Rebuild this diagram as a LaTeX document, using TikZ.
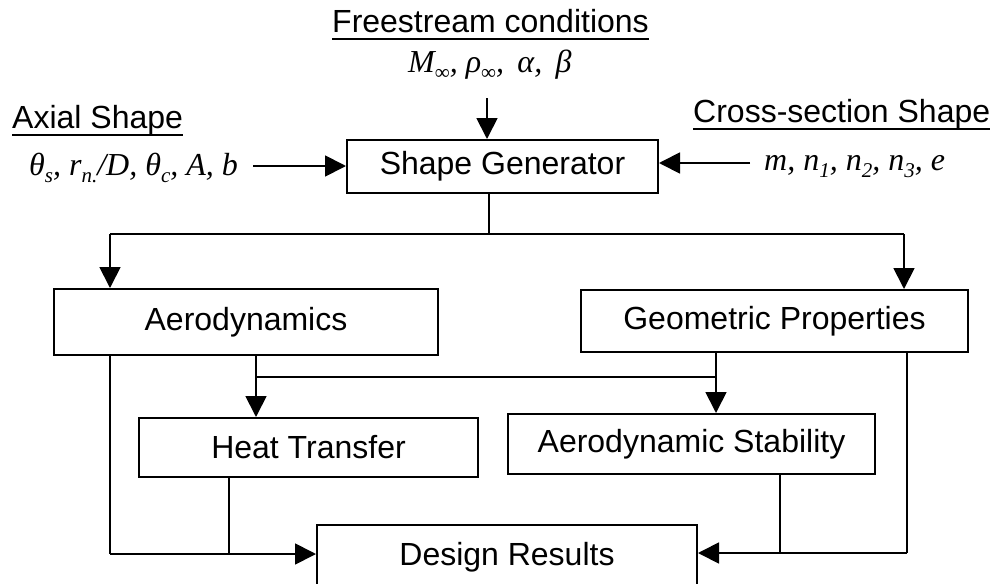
\documentclass[tikz,border=0pt]{standalone}
\usepackage{fontspec}
\setmainfont{Liberation Sans}
\newfontfamily\tms{Liberation Serif}
\usetikzlibrary{arrows.meta}
\newcommand\sbs[1]{\raisebox{-0.22em}{\fontsize{21}{21}\selectfont #1}}
\begin{document}
\begin{tikzpicture}[x=1pt,y=-1pt,
  every node/.style={font=\fontsize{32}{38}\selectfont},
  box/.style={draw,line width=2pt,inner sep=0pt},
  lbl/.style={inner sep=0pt,anchor=base west},
  mth/.style={inner sep=0pt,anchor=base west,font=\fontsize{32}{38}\selectfont\tms\itshape},
  ln/.style={line width=1.8pt},
  arr/.style={line width=1.8pt,-{Triangle[length=21pt,width=21pt]}},
  ul/.style={line width=2.5pt}]
\useasboundingbox (0,0) rectangle (997,584);
\clip (0,0) rectangle (997,584);

% boxes
\node[box,minimum width=311pt,minimum height=53pt] (gen) at (502.5,166.5) {\raisebox{-2pt}{Shape Generator}};
\node[box,minimum width=384pt,minimum height=66pt] (aero) at (246,322) {Aerodynamics};
\node[box,minimum width=387pt,minimum height=62pt] (geo) at (774.5,321) {Geometric Properties};
\node[box,minimum width=339pt,minimum height=59pt] (heat) at (308.5,447.5) {Heat Transfer};
\node[box,minimum width=367pt,minimum height=60pt] (stab) at (691.5,444) {Aerodynamic Stability};
\node[box,minimum width=380pt,minimum height=65pt] (des) at (507,557.5) {Design Results};

% titles
\node[lbl] (fst) at (332,32) {Freestream conditions};
\draw[ul] ([yshift=-7pt]fst.base west) -- ([yshift=-7pt]fst.base east);
\node[lbl] (axt) at (12,128) {Axial Shape};
\draw[ul] ([yshift=-7pt]axt.base west) -- ([yshift=-7pt]axt.base east);
\node[lbl] (cst) at (693,122) {Cross-section Shape};
\draw[ul] ([yshift=-7pt]cst.base west) -- ([yshift=-7pt]cst.base east);

% parameter lists
\node[mth] (fsp) at (408,72) {M\sbs{\upshape∞}, ρ\sbs{\upshape∞}, \,α, \,β};
\node[mth] (axp) at (29,175) {θ\sbs{s}, r\sbs{n.}/D, θ\sbs{c}, A, b};
\node[mth] (csp) at (764,170) {m, n\sbs{1}, n\sbs{2}, n\sbs{3}, e};

% inputs
\coordinate (fsin) at (487,98);
\coordinate (axin) at (253,166);
\coordinate (csin) at (750,163);
\draw[arr] (fsin) -- (fsin |- gen.north);
\draw[arr] (axin) -- (axin -| gen.west);
\draw[arr] (csin) -- (csin -| gen.east);

% generator outputs
\coordinate (gout) at (489,234);
\coordinate (bl) at (110,234);
\coordinate (br) at (904,234);
\draw[ln] (gout |- gen.south) -- (gout);
\draw[ln] (bl) -- (br);
\draw[arr] (bl) -- (bl |- aero.north);
\draw[arr] (br) -- (br |- geo.north);

% middle distribution
\coordinate (ja) at (256,377);
\coordinate (jg) at (716,377);
\draw[ln] (ja |- aero.south) -- (ja) -- (jg);
\draw[ln] (jg |- geo.south) -- (jg);
\draw[arr] (ja) -- (ja |- heat.north);
\draw[arr] (jg) -- (jg |- stab.north);

% to design results
\coordinate (ll) at (110,554);
\coordinate (hl) at (229,554);
\coordinate (rr) at (907,553);
\coordinate (sr) at (780,553);
\draw[ln] (ll |- aero.south) -- (ll);
\draw[ln] (hl |- heat.south) -- (hl);
\draw[arr] (ll) -- (ll -| des.west);
\draw[ln] (rr |- geo.south) -- (rr);
\draw[ln] (sr |- stab.south) -- (sr);
\draw[arr] (rr) -- (rr -| des.east);
\end{tikzpicture}
\end{document}
